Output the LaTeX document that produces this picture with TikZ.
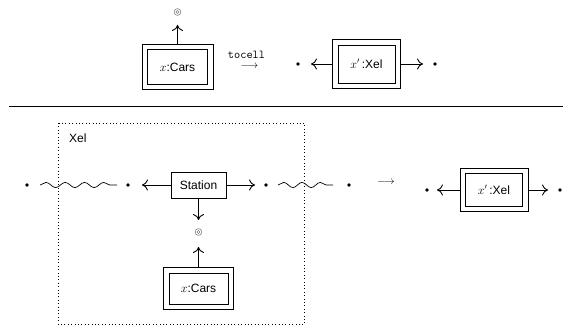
\documentclass[tikz,border=0pt]{standalone}
\usepackage{fontspec}
\setmainfont{Liberation Sans}
\usetikzlibrary{arrows.meta,decorations.pathmorphing,fit}
\begin{document}
\begin{tikzpicture}[x=1pt,y=-1pt, font=\fontsize{12}{14}\selectfont,
  ibox/.style={draw, line width=0.7pt, inner sep=0pt},
  obox/.style={draw, line width=0.7pt, inner sep=5pt},
  sbox/.style={draw, line width=0.7pt, minimum width=55pt, minimum height=26pt, inner sep=0pt, outer sep=0.35pt},
  dot/.style={circle, fill, inner sep=0pt, minimum size=3.6pt},
  ring/.style={circle, draw=gray, line width=0.6pt, minimum size=6.8pt, inner sep=0pt,
    path picture={\draw[gray, line width=0.6pt] (path picture bounding box.center) circle (1.5pt);}},
  arr/.style={line width=0.9pt, -{To[length=6pt,width=11pt]}},
  wave/.style={line width=0.7pt, decorate, decoration={snake, amplitude=2.6pt, segment length=#1}},
  wave/.default=19pt,
  small arrow/.style={inner sep=0pt, font=\fontsize{10.5}{12}\selectfont},
]
\useasboundingbox (0,0) rectangle (563,326);

% ---------- top row ----------
\node[ibox, minimum width=60pt, minimum height=35pt] (c1i) at (177.5,67) {$x$:Cars};
\node[obox, fit=(c1i)] (c1) {};
\node[ring] (o1) at (177.5,12) {};
\draw[arr, shorten >=13pt] (c1.north) -- (o1.center);

\node[inner sep=0pt, align=center] (tc) at (246.5,60)
  {\texttt{tocell}\\[-3.5pt]\hspace*{6pt}{\fontsize{10.5}{12}\selectfont$\longrightarrow$}};

\node[dot] (d1) at (298,64) {};
\node[ibox, minimum width=57pt, minimum height=38pt] (c2i) at (366.5,64) {$x'$\,:Xel};
\node[obox, fit=(c2i)] (c2) {};
\node[dot] (d2) at (435,64) {};
\draw[arr, shorten >=13pt] (c2.west) -- (d1.center);
\draw[arr, shorten >=12pt] (c2.east) -- (d2.center);

% separator
\draw[line width=0.8pt] (9,106) -- (563,106);

% ---------- bottom ----------
\draw[line width=0.8pt, dash pattern=on 0.8pt off 2.6pt] (58.5,123) rectangle (304.5,324.5);
\node[anchor=west, inner sep=0pt] (xl) at (69,138) {Xel};

\node[dot] (a1) at (27,185) {};
\node[dot] (a2) at (128,185) {};
\node[sbox] (st) at (198.5,185) {Station};
\node[dot] (a3) at (266,185) {};
\node[dot] (a4) at (349,185) {};
\draw[wave=19.25pt] ([xshift=13pt]a1.center) -- ([xshift=-11pt]a2.center);
\draw[wave=18.33pt] ([xshift=12pt]a3.center) -- ([xshift=-16pt]a4.center);
\draw[arr, shorten >=14pt] (st.west) -- (a2.center);
\draw[arr, shorten >=11pt] (st.east) -- (a3.center);

\node[ring] (o2) at (198.5,232) {};
\node[ibox, minimum width=59pt, minimum height=31pt] (c3i) at (198.5,288.5) {$x$:Cars};
\node[obox, fit=(c3i)] (c3) {};
\draw[arr, shorten >=12pt] (st.south) -- (o2.center);
\draw[arr, shorten >=15pt] (c3.north) -- (o2.center);

\node[small arrow] (ma) at (386,182) {$\longrightarrow$};

\node[dot] (b1) at (427,190) {};
\node[ibox, minimum width=57pt, minimum height=33pt] (c4i) at (494,190) {$x'$\,:Xel};
\node[obox, fit=(c4i)] (c4) {};
\node[dot] (b2) at (560,190) {};
\draw[arr, shorten >=10pt] (c4.west) -- (b1.center);
\draw[arr, shorten >=12pt] (c4.east) -- (b2.center);
\end{tikzpicture}
\end{document}
